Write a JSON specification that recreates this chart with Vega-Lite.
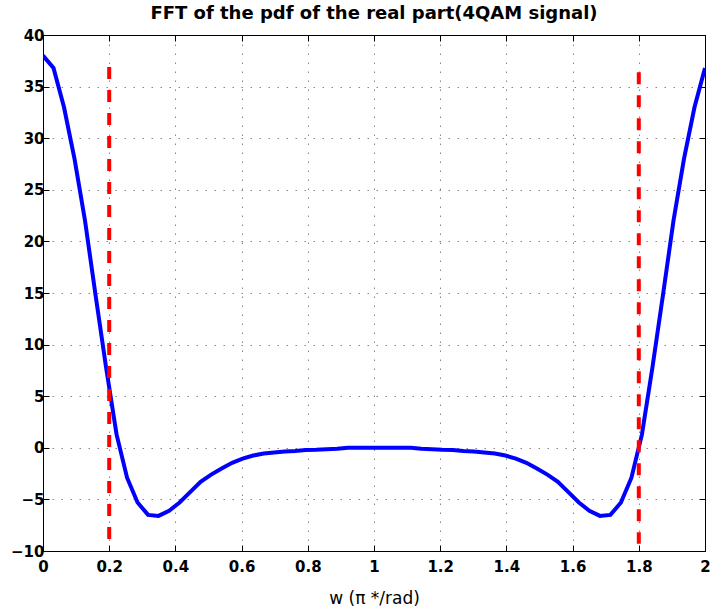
{
  "$schema": "https://vega.github.io/schema/vega-lite/v6.json",
  "autosize": {"type": "none"},
  "width": 662,
  "height": 516,
  "padding": {"left": 43, "top": 35, "right": 5, "bottom": 59},
  "background": "white",
  "config": {
    "view": {"stroke": "black", "strokeWidth": 1},
    "font": "DejaVu Sans"
  },
  "title": {
    "text": "FFT of the pdf of the real part(4QAM signal)",
    "font": "DejaVu Sans",
    "fontSize": 18,
    "fontWeight": "bold",
    "color": "black",
    "offset": 5
  },
  "datasets": {
    "curve": [
      {"w": 0, "v": 38.0}, {"w": 0.031746, "v": 36.8}, {"w": 0.063492, "v": 33.0}, {"w": 0.095238, "v": 28.0},
      {"w": 0.126984, "v": 22.0}, {"w": 0.15873, "v": 14.8}, {"w": 0.190476, "v": 7.8}, {"w": 0.222222, "v": 1.3},
      {"w": 0.253968, "v": -2.9}, {"w": 0.285714, "v": -5.3}, {"w": 0.31746, "v": -6.5}, {"w": 0.349206, "v": -6.6},
      {"w": 0.380952, "v": -6.1}, {"w": 0.412698, "v": -5.3}, {"w": 0.444444, "v": -4.3}, {"w": 0.47619, "v": -3.3},
      {"w": 0.507937, "v": -2.6}, {"w": 0.539683, "v": -2.0}, {"w": 0.571429, "v": -1.45}, {"w": 0.603175, "v": -1.05},
      {"w": 0.634921, "v": -0.75}, {"w": 0.666667, "v": -0.55}, {"w": 0.698413, "v": -0.45}, {"w": 0.730159, "v": -0.35},
      {"w": 0.761905, "v": -0.3}, {"w": 0.793651, "v": -0.22}, {"w": 0.825397, "v": -0.2}, {"w": 0.857143, "v": -0.15},
      {"w": 0.888889, "v": -0.1}, {"w": 0.920635, "v": 0}, {"w": 0.952381, "v": 0}, {"w": 0.984127, "v": 0},
      {"w": 1.015873, "v": 0}, {"w": 1.047619, "v": 0}, {"w": 1.079365, "v": 0}, {"w": 1.111111, "v": 0},
      {"w": 1.142857, "v": -0.1}, {"w": 1.174603, "v": -0.15}, {"w": 1.206349, "v": -0.2}, {"w": 1.238095, "v": -0.22},
      {"w": 1.269841, "v": -0.3}, {"w": 1.301587, "v": -0.35}, {"w": 1.333333, "v": -0.45}, {"w": 1.365079, "v": -0.55},
      {"w": 1.396825, "v": -0.75}, {"w": 1.428571, "v": -1.05}, {"w": 1.460317, "v": -1.45}, {"w": 1.492063, "v": -2.0},
      {"w": 1.52381, "v": -2.6}, {"w": 1.555556, "v": -3.3}, {"w": 1.587302, "v": -4.3}, {"w": 1.619048, "v": -5.3},
      {"w": 1.650794, "v": -6.1}, {"w": 1.68254, "v": -6.6}, {"w": 1.714286, "v": -6.5}, {"w": 1.746032, "v": -5.3},
      {"w": 1.777778, "v": -2.9}, {"w": 1.809524, "v": 1.3}, {"w": 1.84127, "v": 7.8}, {"w": 1.873016, "v": 14.8},
      {"w": 1.904762, "v": 22.0}, {"w": 1.936508, "v": 28.0}, {"w": 1.968254, "v": 33.0}, {"w": 2.0, "v": 36.8}
    ],
    "marks": [
      {"w": 0.2, "top": 36.9, "bottom": -9.3},
      {"w": 1.8, "top": 36.4, "bottom": -9.3}
    ]
  },
  "layer": [
    {
      "data": {"name": "curve"},
      "mark": {"type": "line", "color": "#0000ff", "strokeWidth": 4, "clip": true},
      "encoding": {
        "x": {
          "field": "w", "type": "quantitative",
          "scale": {"domain": [0, 2], "nice": false, "zero": false},
          "axis": {
            "title": "w (π */rad)", "titleFont": "DejaVu Sans", "titleFontSize": 17, "titleFontWeight": "normal",
            "titleColor": "black", "titlePadding": 16,
            "values": [0, 0.2, 0.4, 0.6, 0.8, 1, 1.2, 1.4, 1.6, 1.8, 2],
            "labelExpr": "datum.value == 0 ? '0' : datum.value == 1 ? '1' : datum.value == 2 ? '2' : format(datum.value, '.1f')",
            "labelFont": "DejaVu Sans", "labelFontSize": 15, "labelFontWeight": "bold", "labelColor": "black",
            "labelPadding": 14, "labelFlush": false, "labelOverlap": false,
            "tickSize": -6, "tickColor": "black", "domainColor": "black",
            "grid": true, "gridColor": "#888888", "gridDash": [1.5, 7.5], "gridWidth": 1
          }
        },
        "y": {
          "field": "v", "type": "quantitative",
          "scale": {"domain": [-10, 40], "nice": false, "zero": false},
          "axis": {
            "title": null,
            "values": [-10, -5, 0, 5, 10, 15, 20, 25, 30, 35, 40],
            "labelExpr": "replace(datum.label, '-', '\u2212')",
            "labelFont": "DejaVu Sans", "labelFontSize": 15, "labelFontWeight": "bold", "labelColor": "black",
            "labelPadding": 5, "labelFlush": false, "labelOverlap": false,
            "tickSize": -6, "tickColor": "black", "domainColor": "black",
            "grid": true, "gridColor": "#888888", "gridDash": [1.5, 7.5], "gridWidth": 1
          }
        }
      }
    },
    {
      "data": {"name": "marks"},
      "mark": {"type": "rule", "color": "#ff0000", "strokeWidth": 4, "strokeDash": [12, 11]},
      "encoding": {
        "x": {
          "field": "w", "type": "quantitative",
          "scale": {"domain": [0, 2], "nice": false, "zero": false},
          "axis": {"orient": "top", "title": null, "labels": false, "values": [0, 0.2, 0.4, 0.6, 0.8, 1, 1.2, 1.4, 1.6, 1.8, 2],
                   "tickSize": -6, "tickColor": "black", "domainColor": "black", "grid": false}
        },
        "y": {
          "field": "top", "type": "quantitative",
          "scale": {"domain": [-10, 40], "nice": false, "zero": false},
          "axis": {"orient": "right", "title": null, "labels": false, "values": [-10, -5, 0, 5, 10, 15, 20, 25, 30, 35, 40],
                   "tickSize": -6, "tickColor": "black", "domainColor": "black", "grid": false}
        },
        "y2": {"field": "bottom"}
      }
    }
  ],
  "resolve": {"axis": {"x": "independent", "y": "independent"}}
}
